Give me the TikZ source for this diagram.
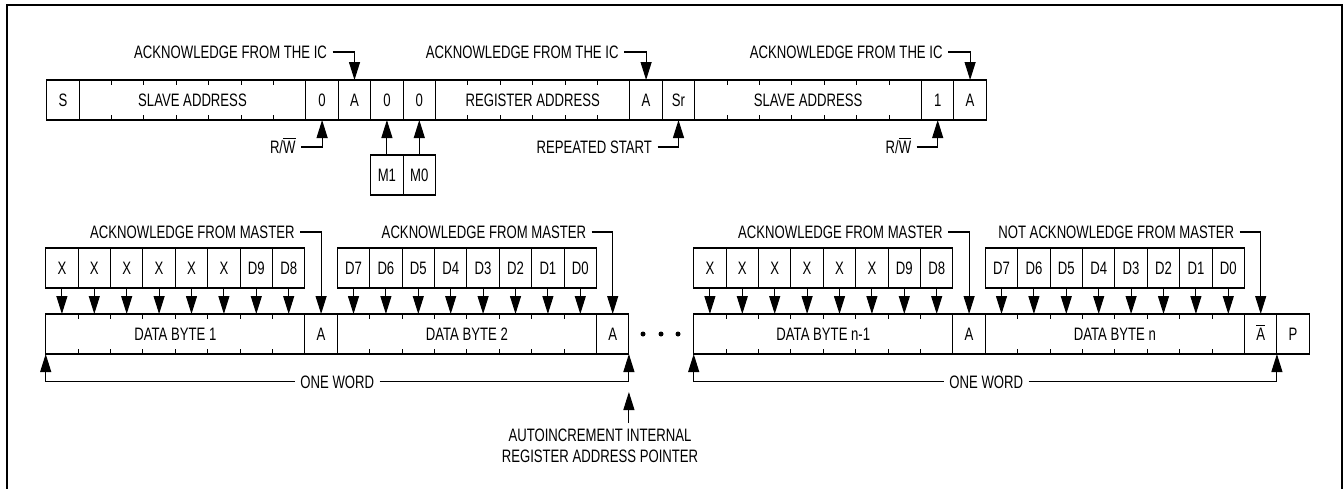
\documentclass[tikz,border=0pt]{standalone}
\usepackage{fontspec}
\setmainfont{Liberation Sans}[FakeStretch=0.73]
\usetikzlibrary{arrows.meta,positioning}

\begin{document}
\begin{tikzpicture}[x=0.5pt,y=-0.5pt,line width=0.55pt]
\tikzset{every node/.style = {font=\fontsize{9}{10.5}\selectfont}}
\tikzset{cell/.style = {draw, minimum width=16.2pt, minimum height=20pt, inner sep=0pt, outer sep=0pt, text height=6.4pt, text depth=0pt}}
\tikzset{field/.style = {cell, minimum width=#1*16.2pt}}
\tikzset{lbl/.style = {inner sep=2.5pt, text height=6.4pt, text depth=0pt}}
\tikzset{ptr/.style = {-{Triangle[length=9pt,width=5.5pt]}}}
\useasboundingbox (0,0) rectangle (1344,488);
\draw[line width=1pt] (6.7,4.7) rectangle (1342.3,496);
% address phase
\node[cell] (s) at (62.9,100) {S};
\node[field=7, right=0pt of s] (sa1) {SLAVE ADDRESS};
\node[cell, right=0pt of sa1] (rw0) {0};
\node[cell, right=0pt of rw0] (ack1) {A};
\node[cell, right=0pt of ack1] (m1bit) {0};
\node[cell, right=0pt of m1bit] (m0bit) {0};
\node[field=6, right=0pt of m0bit] (ra) {REGISTER ADDRESS};
\node[cell, right=0pt of ra] (ack2) {A};
\node[cell, right=0pt of ack2] (sr) {Sr};
\node[field=7, right=0pt of sr] (sa2) {SLAVE ADDRESS};
\node[cell, right=0pt of sa2] (rw1) {1};
\node[cell, right=0pt of rw1] (ack3) {A};
\node[cell, below=17.5pt of m1bit] (m1) {M1};
\node[cell, right=0pt of m1] (m0) {M0};
% data phase
\node[field=8] (db1) at (175.3,334) {DATA BYTE 1};
\node[cell, right=0pt of db1] (ack4) {A};
\node[field=8, right=0pt of ack4] (db2) {DATA BYTE 2};
\node[cell, right=0pt of db2] (ack5) {A};
\node[field=8, right=32.4pt of ack5] (db3) {DATA BYTE n-1};
\node[cell, right=0pt of db3] (ack6) {A};
\node[field=8, right=0pt of ack6] (db4) {DATA BYTE n};
\node[cell, right=0pt of db4] (nack) {$\overline{\mbox{A}}$};
\node[cell, right=0pt of nack] (p) {P};
\foreach \x in {643,661,678} \fill (\x,334) circle (1.25pt);
% bit ticks
\foreach \f/\m in {sa1/6,ra/5,sa2/6,db1/7,db2/7,db3/7,db4/7} {
  \foreach \k in {1,...,\m} {
    \draw ([xshift=\k*16.2pt]\f.north west) -- ++(0,5);
    \draw ([xshift=\k*16.2pt]\f.south west) -- ++(0,-5);
  }
}
% bits above the data bytes
\foreach \f in {db1,db3} {
  \foreach \k/\t in {1/X,2/X,3/X,4/X,5/X,6/X,7/D9,8/D8} {
    \node[cell] (\f-\k) at ([xshift=\k*16.2pt-8.1pt, yshift=23pt]\f.north west) {\t};
    \draw[ptr] (\f-\k.south) -- (\f-\k.south |- \f.north);
  }
}
\foreach \f in {db2,db4} {
  \foreach \k/\t in {1/D7,2/D6,3/D5,4/D4,5/D3,6/D2,7/D1,8/D0} {
    \node[cell] (\f-\k) at ([xshift=\k*16.2pt-8.1pt, yshift=23pt]\f.north west) {\t};
    \draw[ptr] (\f-\k.south) -- (\f-\k.south |- \f.north);
  }
}
% labels
\node[lbl, anchor=east] (ic1) at ([xshift=-11pt, yshift=14pt]ack1.north) {ACKNOWLEDGE FROM THE IC};
\node[lbl, anchor=east] (ic2) at ([xshift=-11pt, yshift=14pt]ack2.north) {ACKNOWLEDGE FROM THE IC};
\node[lbl, anchor=east] (ic3) at ([xshift=-11pt, yshift=14pt]ack3.north) {ACKNOWLEDGE FROM THE IC};
\node[lbl, anchor=east] (rwl0) at ([xshift=-10.5pt, yshift=-13.5pt]rw0.south) {R/$\overline{\mbox{W}}$};
\node[lbl, anchor=east] (rstart) at ([xshift=-10.5pt, yshift=-13.5pt]sr.south) {REPEATED START};
\node[lbl, anchor=east] (rwl1) at ([xshift=-10.5pt, yshift=-13.5pt]rw1.south) {R/$\overline{\mbox{W}}$};
\node[lbl, anchor=east] (am1) at ([xshift=-10.5pt, yshift=41pt]ack4.north) {ACKNOWLEDGE FROM MASTER};
\node[lbl, anchor=east] (am2) at ([xshift=-10.5pt, yshift=41pt]ack5.north) {ACKNOWLEDGE FROM MASTER};
\node[lbl, anchor=east] (am3) at ([xshift=-10.5pt, yshift=41pt]ack6.north) {ACKNOWLEDGE FROM MASTER};
\node[lbl, anchor=east] (nam) at ([xshift=-10.5pt, yshift=41pt]nack.north) {NOT ACKNOWLEDGE FROM MASTER};
\node[lbl] (w1) at (337.3,381.7) {ONE WORD};
\node[lbl] (w2) at (986.3,381.7) {ONE WORD};
\node[inner sep=2.5pt, align=center, anchor=north] (incr) at (600,423) {AUTOINCREMENT INTERNAL\\REGISTER ADDRESS POINTER};
\coordinate (inc) at ([yshift=-19pt]ack5.south east);
% pointers
\draw[ptr] (ic1.east) -| (ack1.north);
\draw[ptr] (ic2.east) -| (ack2.north);
\draw[ptr] (ic3.east) -| (ack3.north);
\draw[ptr] (rwl0.east) -| (rw0.south);
\draw[ptr] (rstart.east) -| (sr.south);
\draw[ptr] (rwl1.east) -| (rw1.south);
\draw[ptr] (m1.north) -- (m1bit.south);
\draw[ptr] (m0.north) -- (m0bit.south);
\draw[ptr] (am1.east) -| (ack4.north);
\draw[ptr] (am2.east) -| (ack5.north);
\draw[ptr] (am3.east) -| (ack6.north);
\draw[ptr] (nam.east) -| (nack.north);
\draw[ptr] (w1.west) -| (db1.south west);
\draw[ptr] (w1.east) -| (ack5.south east);
\draw[ptr] (w2.west) -| (db3.south west);
\draw[ptr] (w2.east) -| (nack.south east);
\draw[ptr] (incr.north -| inc) -- (inc);
\end{tikzpicture}
\end{document}
